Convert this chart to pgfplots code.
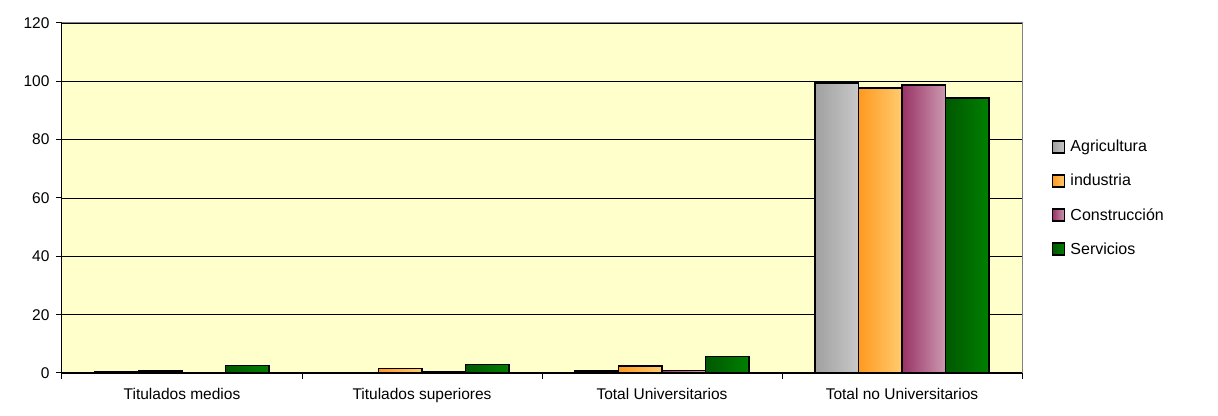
\documentclass[border=0pt]{standalone}
\usepackage{fontspec}
\setmainfont{Liberation Sans}
\usepackage{pgfplots}
\pgfplotsset{compat=1.18}
\definecolor{bgy}{HTML}{FFFFCC}
\definecolor{agL}{HTML}{A0A0A0}\definecolor{agR}{HTML}{C8C8C8}
\definecolor{inL}{HTML}{FF9920}\definecolor{inR}{HTML}{FFCC70}
\definecolor{coL}{HTML}{993366}\definecolor{coR}{HTML}{CC99B0}
\definecolor{seL}{HTML}{005800}\definecolor{seR}{HTML}{008000}
\pgfplotsset{
  agb/.style={ybar, bar width=43.5pt, bar shift=-65.25pt, draw=black, line width=1.6pt, left color=agL, right color=agR, forget plot},
  inb/.style={ybar, bar width=43.5pt, bar shift=-21.75pt, draw=black, line width=1.6pt, left color=inL, right color=inR, forget plot},
  cob/.style={ybar, bar width=43.5pt, bar shift=21.75pt, draw=black, line width=1.6pt, left color=coL, right color=coR, forget plot},
  seb/.style={ybar, bar width=43.5pt, bar shift=65.25pt, draw=black, line width=1.6pt, left color=seL, right color=seR, forget plot},
}
\begin{document}
\begin{tikzpicture}[x=1pt,y=1pt]
\path[use as bounding box] (0,0) rectangle (1218,415);
\begin{axis}[
  at={(62pt,42pt)}, anchor=south west,
  scale only axis, width=960pt, height=350pt,
  xmin=-0.5, xmax=3.5, ymin=0, ymax=120,
  ytick={0,20,...,120},
  ymajorgrids, grid style={black, line width=0.8pt},
  axis background/.style={fill=bgy},
  axis x line*=bottom, axis y line*=left,
  axis line style={black, line width=1pt},
  every outer x axis line/.append style={-},
  every outer y axis line/.append style={-},
  xtick={-0.5,0.5,1.5,2.5,3.5},
  xticklabels={},
  extra x ticks={0,1,2,3},
  extra x tick labels={Titulados medios, Titulados superiores, Total Universitarios, Total no Universitarios},
  extra x tick style={major tick length=0pt, grid=none, xticklabel style={yshift=-12pt}},
  tick align=outside, tick style={black, line width=1pt}, major tick length=6pt,
  /pgf/number format/assume math mode=true,
  tick label style={font=\fontsize{15.5}{18}\selectfont},
  yticklabel style={xshift=-3pt},
  legend style={at={(1.031,0.5)}, anchor=west, draw=none, fill=none,
    font=\fontsize{16}{18}\selectfont, row sep=17pt, inner sep=0pt,
    nodes={inner xsep=5pt}},
  legend cell align=left,
  legend image code/.code={\draw[#1, line width=1.5pt] (0pt,-6pt) rectangle (12pt,6pt);},
  clip=false,
]
\addlegendimage{draw=black, left color=agL, right color=agR}
\addlegendimage{draw=black, left color=inL, right color=inR}
\addlegendimage{draw=black, left color=coL, right color=coR}
\addlegendimage{draw=black, left color=seL, right color=seR}
\addplot[agb] coordinates {(0,0.3)};
\addplot[agb] coordinates {(1,0.1)};
\addplot[agb] coordinates {(2,0.6)};
\addplot[agb] coordinates {(3,99.4)};
\addplot[inb] coordinates {(0,0.6)};
\addplot[inb] coordinates {(1,1.5)};
\addplot[inb] coordinates {(2,2.3)};
\addplot[inb] coordinates {(3,97.7)};
\addplot[cob] coordinates {(0,0.2)};
\addplot[cob] coordinates {(1,0.3)};
\addplot[cob] coordinates {(2,0.9)};
\addplot[cob] coordinates {(3,98.8)};
\addplot[seb] coordinates {(0,2.6)};
\addplot[seb] coordinates {(1,2.9)};
\addplot[seb] coordinates {(2,5.7)};
\addplot[seb] coordinates {(3,94.3)};
\legend{Agricultura, industria, Construcción, Servicios}
\draw[gray, line width=1pt] (rel axis cs:0,1) -- (rel axis cs:1,1) -- (rel axis cs:1,0);
\end{axis}
\end{tikzpicture}
\end{document}
